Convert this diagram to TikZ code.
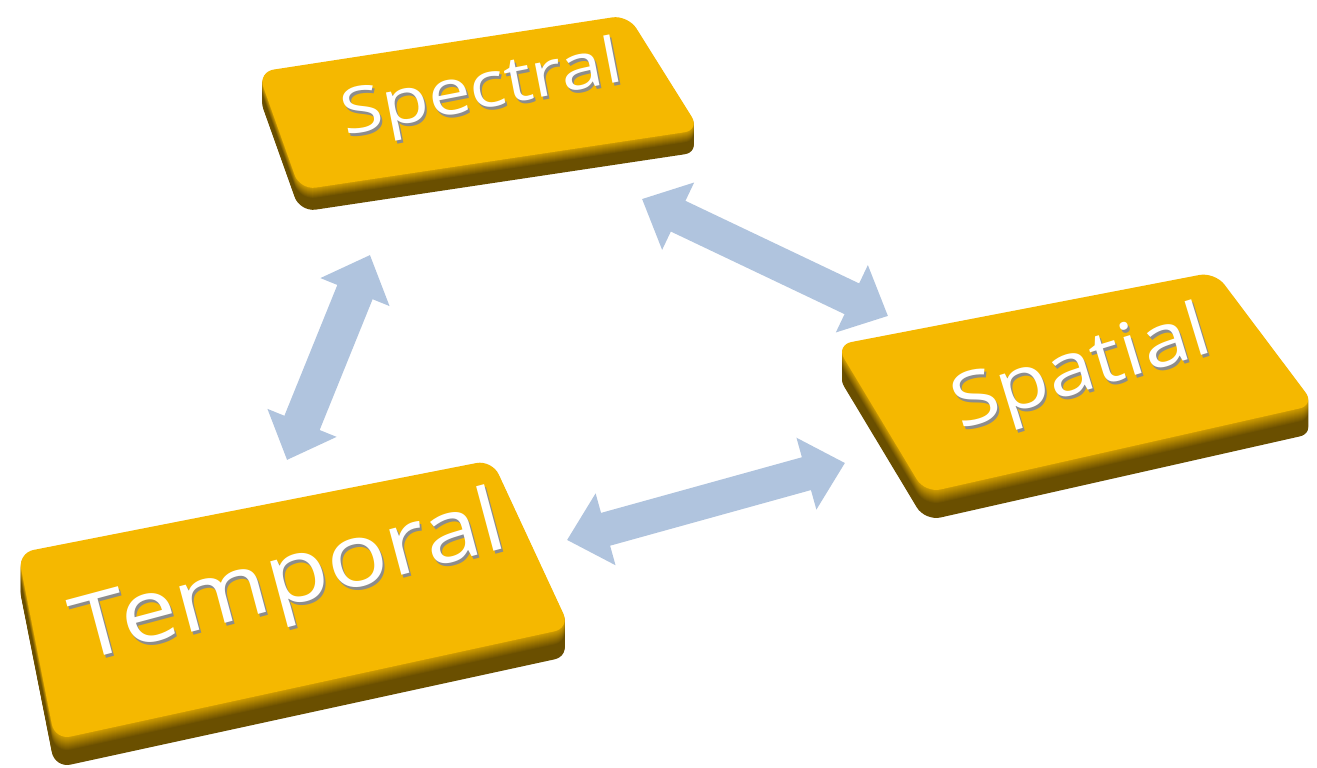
\documentclass[tikz,border=0pt]{standalone}
\usepackage{fontspec}
\setmainfont{Open Sans}
\usetikzlibrary{arrows.meta,calc}

\definecolor{keytop}{HTML}{F5B800}
\definecolor{keyside}{HTML}{D29E00}
\definecolor{keydark}{HTML}{6A4F00}
\definecolor{linkblue}{HTML}{B0C4DE}

\begin{document}
\begin{tikzpicture}[x=0.01cm,y=-0.01cm,
	keyface/.style={fill=keytop,rounded corners=4.5pt},
	keyfoot/.style={rounded corners=4.5pt},
	keytext/.style={text=white,inner sep=0pt},
	keyshadow/.style={text=black!45,inner sep=0pt},
	twoway/.style={draw=linkblue,line width=0.34cm,
		{Triangle[width=0.72cm,length=0.4cm]}-{Triangle[width=0.72cm,length=0.4cm]}}]

	\fill[white] (0,0) rectangle (1317,767);

	% spectral key
	\coordinate (sp1) at (258,72); \coordinate (sp2) at (628,15);
	\coordinate (sp3) at (700,130); \coordinate (sp4) at (300,190);
	\foreach \d in {22,21,...,1}{
		\pgfmathtruncatemacro\p{min(100,100*\d/11)}
		\fill[keyfoot,keydark!\p!keyside] ($(sp1)+(0,\d)$) -- ($(sp2)+(0,\d)$) -- ($(sp3)+(0,\d)$) -- ($(sp4)+(0,\d)$) -- cycle;}
	\fill[keyface] (sp1) -- (sp2) -- (sp3) -- (sp4) -- cycle;
	\node[keyshadow,rotate=11,xscale=1.2] at (484,95) {\fontsize{18}{18}\selectfont Spectral};
	\node[keytext,rotate=11,xscale=1.2] at (482,92) (spec) {\fontsize{18}{18}\selectfont Spectral};

	% spatial key
	\coordinate (sa1) at (836,345); \coordinate (sa2) at (1215,272);
	\coordinate (sa3) at (1315,405); \coordinate (sa4) at (925,493);
	\foreach \d in {28,27,...,1}{
		\pgfmathtruncatemacro\p{min(100,100*\d/14)}
		\fill[keyfoot,keydark!\p!keyside] ($(sa1)+(0,\d)$) -- ($(sa2)+(0,\d)$) -- ($(sa3)+(0,\d)$) -- ($(sa4)+(0,\d)$) -- cycle;}
	\fill[keyface] (sa1) -- (sa2) -- (sa3) -- (sa4) -- cycle;
	\node[keyshadow,rotate=17,xscale=1.15] at (1084,375) {\fontsize{21}{21}\selectfont Spatial};
	\node[keytext,rotate=17,xscale=1.15] at (1082,372) (spat) {\fontsize{21}{21}\selectfont Spatial};

	% temporal key
	\coordinate (te1) at (18,553); \coordinate (te2) at (492,460);
	\coordinate (te3) at (570,628); \coordinate (te4) at (55,740);
	\foreach \d in {28,27,...,1}{
		\pgfmathtruncatemacro\p{min(100,100*\d/14)}
		\fill[keyfoot,keydark!\p!keyside] ($(te1)+(0,\d)$) -- ($(te2)+(0,\d)$) -- ($(te3)+(0,\d)$) -- ($(te4)+(0,\d)$) -- cycle;}
	\fill[keyface] (te1) -- (te2) -- (te3) -- (te4) -- cycle;
	\node[keyshadow,rotate=15,xscale=1.15] at (292,585) {\fontsize{25}{25}\selectfont Temporal};
	\node[keytext,rotate=15,xscale=1.15] at (290,582) (temp) {\fontsize{25}{25}\selectfont Temporal};

	% links
	\coordinate (spec-t) at (370,255); \coordinate (temp-s) at (287,460);
	\coordinate (spec-s) at (642,199); \coordinate (spat-s) at (888,316);
	\coordinate (spat-t) at (845,463); \coordinate (temp-p) at (567,540);
	\draw[twoway,line width=0.38cm] (spec-t) -- (temp-s);
	\draw[twoway] (spec-s) -- (spat-s);
	\draw[twoway] (spat-t) -- (temp-p);
\end{tikzpicture}
\end{document}
